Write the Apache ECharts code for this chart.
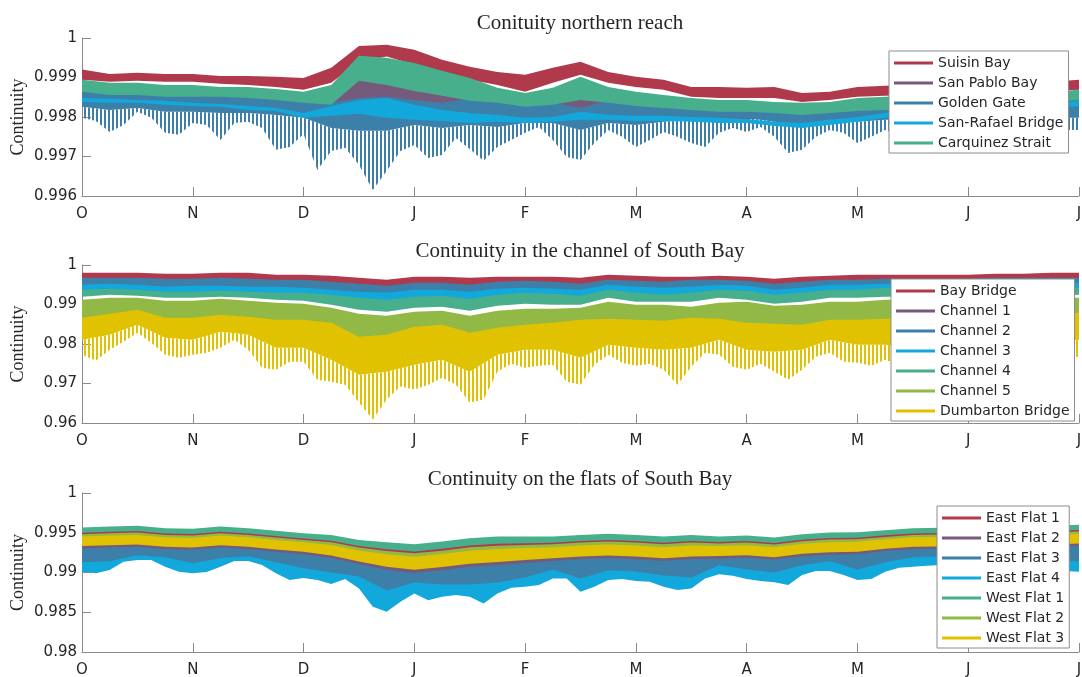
<!DOCTYPE html>
<html>
<head>
<meta charset="utf-8">
<script src="https://cdn.jsdelivr.net/npm/echarts@6/dist/echarts.min.js"></script>
<style>
  html, body { margin: 0; padding: 0; background: #ffffff; }
  #chart { width: 1082px; height: 677px; }
</style>
</head>
<body>
<div id="chart"></div>
<script>
// Month tick labels (October to July)
const monthLabels = ['O', 'N', 'D', 'J', 'F', 'M', 'A', 'M', 'J', 'J'];

// Sample positions, in months since 1 October
const coarseMonths = [0,0.25,0.5,0.75,1,1.25,1.5,1.75,2,2.25,2.5,2.75,3,3.25,3.5,3.75,4,4.25,4.5,4.75,5,5.25,5.5,5.75,6,6.25,6.5,6.75,7,7.25,7.5,7.75,8,8.25,8.5,8.75,9];
const fineMonths = [0,0.125,0.25,0.375,0.5,0.625,0.75,0.875,1,1.125,1.25,1.375,1.5,1.625,1.75,1.875,2,2.125,2.25,2.375,2.5,2.625,2.75,2.875,3,3.125,3.25,3.375,3.5,3.625,3.75,3.875,4,4.125,4.25,4.375,4.5,4.625,4.75,4.875,5,5.125,5.25,5.375,5.5,5.625,5.75,5.875,6,6.125,6.25,6.375,6.5,6.625,6.75,6.875,7,7.125,7.25,7.375,7.5,7.625,7.75,7.875,8,8.125,8.25,8.375,8.5,8.625,8.75,8.875,9];

// ---- Northern reach: tidal envelopes (upper / lower) ----
const suisinHi = [0.99920,0.99909,0.99912,0.99909,0.99909,0.99904,0.99904,0.99902,0.99899,0.99925,0.99980,0.99983,0.99970,0.99945,0.99927,0.99914,0.99907,0.99925,0.99940,0.99914,0.99902,0.99894,0.99876,0.99876,0.99874,0.99876,0.99861,0.99864,0.99876,0.99879,0.99881,0.99879,0.99881,0.99884,0.99887,0.99889,0.99894];
const suisinLo = [0.99894,0.99889,0.99892,0.99889,0.99889,0.99884,0.99881,0.99876,0.99869,0.99887,0.99940,0.99953,0.99932,0.99912,0.99894,0.99881,0.99864,0.99887,0.99907,0.99887,0.99876,0.99869,0.99851,0.99848,0.99848,0.99848,0.99838,0.99843,0.99851,0.99854,0.99856,0.99856,0.99859,0.99861,0.99864,0.99866,0.99869];
const sanPabloHi = [0.99874,0.99866,0.99866,0.99861,0.99861,0.99861,0.99859,0.99854,0.99846,0.99848,0.99894,0.99889,0.99879,0.99861,0.99848,0.99843,0.99833,0.99843,0.99854,0.99843,0.99836,0.99831,0.99826,0.99821,0.99821,0.99818,0.99813,0.99818,0.99823,0.99826,0.99828,0.99831,0.99833,0.99836,0.99841,0.99846,0.99851];
const sanPabloLo = [0.99848,0.99841,0.99841,0.99836,0.99836,0.99836,0.99833,0.99828,0.99821,0.99818,0.99843,0.99843,0.99836,0.99828,0.99823,0.99818,0.99808,0.99813,0.99818,0.99818,0.99810,0.99805,0.99800,0.99795,0.99795,0.99793,0.99788,0.99793,0.99798,0.99800,0.99803,0.99805,0.99808,0.99810,0.99815,0.99821,0.99826];
const goldenGateHi = [0.99869,0.99861,0.99861,0.99856,0.99856,0.99856,0.99854,0.99848,0.99841,0.99836,0.99848,0.99851,0.99843,0.99836,0.99846,0.99841,0.99831,0.99836,0.99823,0.99841,0.99833,0.99828,0.99823,0.99818,0.99818,0.99815,0.99810,0.99815,0.99821,0.99823,0.99826,0.99828,0.99831,0.99833,0.99838,0.99843,0.99848];
const goldenGateLo = [0.99826,0.99818,0.99823,0.99813,0.99813,0.99810,0.99810,0.99805,0.99798,0.99772,0.99765,0.99765,0.99780,0.99772,0.99780,0.99775,0.99785,0.99785,0.99767,0.99785,0.99780,0.99788,0.99793,0.99798,0.99798,0.99788,0.99780,0.99793,0.99788,0.99793,0.99793,0.99798,0.99798,0.99793,0.99795,0.99798,0.99798];
// spring-tide minima of Golden Gate (finer sampling)
const goldenGateTip = [0.99798,0.99790,0.99762,0.99780,0.99813,0.99798,0.99760,0.99755,0.99785,0.99780,
  0.99742,0.99785,0.99788,0.99772,0.99717,0.99724,0.99757,0.99666,0.99714,0.99722,
  0.99679,0.99615,0.99663,0.99714,0.99729,0.99696,0.99704,0.99747,0.99719,0.99689,
  0.99724,0.99742,0.99760,0.99775,0.99742,0.99699,0.99691,0.99734,0.99767,0.99750,
  0.99724,0.99742,0.99762,0.99750,0.99734,0.99724,0.99760,0.99772,0.99762,0.99775,
  0.99750,0.99709,0.99717,0.99750,0.99767,0.99760,0.99734,0.99750,0.99767,0.99755,
  0.99742,0.99762,0.99772,0.99755,0.99737,0.99747,0.99767,0.99772,0.99755,0.99742,
  0.99762,0.99767,0.99767];
const sanRafaelHi = [0.99848,0.99846,0.99843,0.99841,0.99836,0.99833,0.99828,0.99823,0.99810,0.99828,0.99843,0.99848,0.99831,0.99818,0.99810,0.99805,0.99798,0.99800,0.99813,0.99805,0.99803,0.99803,0.99800,0.99798,0.99795,0.99788,0.99785,0.99793,0.99800,0.99810,0.99813,0.99815,0.99818,0.99823,0.99828,0.99833,0.99841];
const sanRafaelLo = [0.99838,0.99836,0.99836,0.99831,0.99828,0.99826,0.99818,0.99815,0.99798,0.99803,0.99808,0.99798,0.99793,0.99790,0.99785,0.99788,0.99785,0.99788,0.99793,0.99793,0.99790,0.99790,0.99788,0.99785,0.99785,0.99777,0.99772,0.99780,0.99788,0.99798,0.99800,0.99803,0.99805,0.99810,0.99815,0.99821,0.99828];
const carquinezHi = [0.99894,0.99887,0.99887,0.99881,0.99881,0.99876,0.99876,0.99871,0.99864,0.99881,0.99955,0.99950,0.99937,0.99917,0.99899,0.99874,0.99861,0.99874,0.99902,0.99876,0.99864,0.99856,0.99848,0.99843,0.99843,0.99838,0.99836,0.99838,0.99848,0.99851,0.99854,0.99854,0.99856,0.99859,0.99861,0.99864,0.99869];
const carquinezLo = [0.99864,0.99856,0.99856,0.99851,0.99851,0.99851,0.99848,0.99843,0.99836,0.99831,0.99892,0.99881,0.99866,0.99854,0.99841,0.99836,0.99826,0.99831,0.99843,0.99836,0.99828,0.99823,0.99818,0.99813,0.99813,0.99810,0.99805,0.99810,0.99815,0.99818,0.99821,0.99823,0.99826,0.99828,0.99833,0.99838,0.99843];

// ---- Channel of South Bay ----
const bayBridgeHi = [0.99805,0.99805,0.99805,0.99780,0.99780,0.99805,0.99805,0.99755,0.99755,0.99729,0.99679,0.99628,0.99704,0.99704,0.99679,0.99704,0.99704,0.99704,0.99679,0.99755,0.99729,0.99704,0.99704,0.99729,0.99704,0.99653,0.99704,0.99729,0.99755,0.99755,0.99755,0.99755,0.99755,0.99780,0.99780,0.99805,0.99805];
const bayBridgeLo = [0.99603,0.99603,0.99603,0.99577,0.99577,0.99603,0.99577,0.99552,0.99552,0.99502,0.99451,0.99400,0.99476,0.99476,0.99426,0.99502,0.99527,0.99502,0.99451,0.99552,0.99527,0.99502,0.99552,0.99552,0.99527,0.99451,0.99502,0.99552,0.99552,0.99577,0.99577,0.99577,0.99577,0.99603,0.99603,0.99603,0.99603];
const channel1Hi = [0.99628,0.99628,0.99628,0.99603,0.99603,0.99628,0.99603,0.99577,0.99577,0.99527,0.99476,0.99426,0.99502,0.99502,0.99451,0.99527,0.99552,0.99527,0.99476,0.99577,0.99552,0.99527,0.99577,0.99577,0.99552,0.99476,0.99527,0.99577,0.99577,0.99603,0.99603,0.99603,0.99603,0.99628,0.99628,0.99628,0.99628];
const channel1Lo = [0.99502,0.99527,0.99502,0.99451,0.99476,0.99476,0.99451,0.99451,0.99426,0.99375,0.99325,0.99299,0.99375,0.99375,0.99325,0.99400,0.99426,0.99400,0.99375,0.99502,0.99451,0.99426,0.99451,0.99502,0.99476,0.99375,0.99426,0.99502,0.99502,0.99527,0.99527,0.99527,0.99527,0.99527,0.99527,0.99552,0.99552];
const channel2Hi = [0.99679,0.99679,0.99679,0.99653,0.99653,0.99679,0.99653,0.99628,0.99628,0.99577,0.99527,0.99476,0.99552,0.99552,0.99502,0.99577,0.99603,0.99577,0.99527,0.99628,0.99603,0.99577,0.99628,0.99628,0.99603,0.99527,0.99577,0.99628,0.99628,0.99653,0.99653,0.99653,0.99653,0.99679,0.99679,0.99679,0.99679];
const channel2Lo = [0.99426,0.99451,0.99426,0.99375,0.99400,0.99400,0.99375,0.99375,0.99350,0.99299,0.99249,0.99223,0.99299,0.99299,0.99249,0.99325,0.99350,0.99325,0.99299,0.99426,0.99375,0.99350,0.99375,0.99426,0.99400,0.99299,0.99350,0.99426,0.99426,0.99451,0.99451,0.99451,0.99451,0.99451,0.99451,0.99476,0.99476];
const channel3Hi = [0.99502,0.99527,0.99502,0.99451,0.99476,0.99476,0.99451,0.99451,0.99426,0.99375,0.99325,0.99299,0.99375,0.99375,0.99325,0.99400,0.99426,0.99400,0.99375,0.99502,0.99451,0.99426,0.99451,0.99502,0.99476,0.99375,0.99426,0.99502,0.99502,0.99527,0.99527,0.99527,0.99527,0.99527,0.99527,0.99552,0.99552];
const channel3Lo = [0.99299,0.99325,0.99299,0.99249,0.99249,0.99274,0.99249,0.99223,0.99223,0.99173,0.99097,0.99046,0.99122,0.99147,0.99071,0.99173,0.99223,0.99198,0.99147,0.99299,0.99223,0.99173,0.99223,0.99299,0.99274,0.99173,0.99223,0.99299,0.99299,0.99350,0.99350,0.99350,0.99350,0.99350,0.99350,0.99350,0.99350];
const channel4Hi = [0.99375,0.99400,0.99375,0.99325,0.99325,0.99350,0.99325,0.99299,0.99299,0.99249,0.99173,0.99122,0.99198,0.99223,0.99147,0.99249,0.99299,0.99274,0.99223,0.99375,0.99299,0.99249,0.99299,0.99375,0.99350,0.99249,0.99299,0.99375,0.99375,0.99426,0.99426,0.99426,0.99426,0.99426,0.99426,0.99426,0.99426];
const channel4Lo = [0.99198,0.99249,0.99223,0.99173,0.99173,0.99198,0.99173,0.99122,0.99097,0.98996,0.98869,0.98818,0.98920,0.98945,0.98844,0.98970,0.99021,0.98996,0.98996,0.99173,0.99071,0.99071,0.99071,0.99173,0.99122,0.99021,0.99071,0.99173,0.99173,0.99198,0.99198,0.99223,0.99223,0.99223,0.99223,0.99223,0.99249];
const channel5Hi = [0.99122,0.99173,0.99173,0.99097,0.99097,0.99147,0.99097,0.99046,0.99021,0.98920,0.98768,0.98717,0.98818,0.98844,0.98717,0.98844,0.98894,0.98894,0.98920,0.99071,0.98996,0.98996,0.98945,0.99046,0.99071,0.98970,0.98996,0.99071,0.99071,0.99122,0.99122,0.99122,0.99122,0.99147,0.99147,0.99173,0.99173];
const channel5Lo = [0.98464,0.98565,0.98667,0.98464,0.98464,0.98540,0.98489,0.98413,0.98413,0.98337,0.97983,0.98034,0.98236,0.98287,0.98084,0.98211,0.98287,0.98337,0.98413,0.98439,0.98413,0.98388,0.98464,0.98439,0.98337,0.98312,0.98287,0.98413,0.98413,0.98439,0.98464,0.98464,0.98489,0.98515,0.98515,0.98540,0.98591];
const dumbartonHi = [0.98667,0.98768,0.98869,0.98667,0.98667,0.98743,0.98692,0.98616,0.98616,0.98540,0.98186,0.98236,0.98439,0.98489,0.98287,0.98413,0.98489,0.98540,0.98616,0.98641,0.98616,0.98591,0.98667,0.98641,0.98540,0.98515,0.98489,0.98616,0.98616,0.98641,0.98667,0.98667,0.98692,0.98717,0.98717,0.98743,0.98793];
const dumbartonLo = [0.98110,0.98236,0.98489,0.98160,0.98110,0.98312,0.98236,0.97907,0.97907,0.97604,0.97224,0.97300,0.97477,0.97604,0.97300,0.97730,0.97857,0.97857,0.97654,0.97983,0.97907,0.97857,0.97907,0.98110,0.97857,0.97806,0.97857,0.98110,0.97983,0.97983,0.97907,0.98008,0.97958,0.98008,0.97983,0.98059,0.98110];
// spring-tide minima of Dumbarton Bridge (finer sampling)
const dumbartonTip = [0.97730,0.97578,0.97857,0.98059,0.98287,0.98034,0.97730,0.97654,0.97730,0.97781,
  0.97907,0.98110,0.97857,0.97401,0.97351,0.97553,0.97553,0.97098,0.97047,0.96971,
  0.96516,0.96086,0.96592,0.96921,0.96845,0.96971,0.97148,0.96971,0.96516,0.96592,
  0.97300,0.97503,0.97401,0.97452,0.97477,0.97047,0.96971,0.97477,0.97730,0.97528,
  0.97452,0.97503,0.97351,0.96971,0.97427,0.97781,0.97730,0.97427,0.97351,0.97503,
  0.97300,0.97098,0.97351,0.97680,0.97781,0.97553,0.97528,0.97452,0.97604,0.97477,
  0.97351,0.97553,0.97654,0.97553,0.97401,0.97477,0.97604,0.97553,0.97401,0.97503,
  0.97604,0.97654,0.97680];

// ---- Flats of South Bay ----
const eastFlat1Hi = [0.99512,0.99524,0.99533,0.99504,0.99495,0.99524,0.99504,0.99470,0.99441,0.99414,0.99347,0.99310,0.99281,0.99314,0.99357,0.99377,0.99384,0.99389,0.99410,0.99423,0.99410,0.99389,0.99410,0.99395,0.99407,0.99382,0.99425,0.99445,0.99450,0.99479,0.99504,0.99508,0.99514,0.99520,0.99527,0.99533,0.99546];
const eastFlat1Lo = [0.99457,0.99469,0.99478,0.99449,0.99440,0.99469,0.99449,0.99415,0.99386,0.99353,0.99285,0.99238,0.99208,0.99241,0.99284,0.99304,0.99316,0.99327,0.99348,0.99361,0.99348,0.99327,0.99348,0.99338,0.99350,0.99325,0.99368,0.99388,0.99393,0.99424,0.99449,0.99453,0.99459,0.99465,0.99472,0.99478,0.99491];
const eastFlat2Hi = [0.99344,0.99356,0.99365,0.99336,0.99327,0.99356,0.99336,0.99302,0.99273,0.99228,0.99152,0.99089,0.99052,0.99085,0.99128,0.99148,0.99172,0.99194,0.99215,0.99228,0.99215,0.99194,0.99215,0.99218,0.99230,0.99205,0.99248,0.99268,0.99273,0.99311,0.99336,0.99340,0.99346,0.99352,0.99359,0.99365,0.99378];
const eastFlat2Lo = [0.99278,0.99290,0.99299,0.99270,0.99261,0.99290,0.99270,0.99236,0.99207,0.99155,0.99077,0.99002,0.98962,0.98995,0.99038,0.99058,0.99088,0.99119,0.99140,0.99153,0.99140,0.99119,0.99140,0.99149,0.99161,0.99136,0.99179,0.99199,0.99204,0.99245,0.99270,0.99274,0.99280,0.99286,0.99293,0.99299,0.99312];
const eastFlat3Hi = [0.99302,0.99314,0.99323,0.99294,0.99285,0.99314,0.99294,0.99260,0.99231,0.99181,0.99104,0.99034,0.98995,0.99028,0.99071,0.99091,0.99119,0.99146,0.99167,0.99180,0.99167,0.99146,0.99167,0.99174,0.99186,0.99161,0.99204,0.99224,0.99229,0.99269,0.99294,0.99298,0.99304,0.99310,0.99317,0.99323,0.99336];
const eastFlat3Lo = [0.99108,0.99120,0.99196,0.99171,0.99095,0.99158,0.99183,0.99108,0.99032,0.98981,0.98931,0.98754,0.98855,0.98830,0.98830,0.98855,0.98918,0.99019,0.98905,0.99007,0.98994,0.98943,0.98918,0.99070,0.99019,0.98981,0.99070,0.99120,0.99019,0.99108,0.99171,0.99183,0.99145,0.99133,0.99171,0.99133,0.99120];
const eastFlat4Hi = [0.99128,0.99140,0.99216,0.99191,0.99115,0.99178,0.99203,0.99128,0.99052,0.99001,0.98951,0.98774,0.98875,0.98850,0.98850,0.98875,0.98938,0.99039,0.98925,0.99027,0.99014,0.98963,0.98938,0.99090,0.99039,0.99001,0.99090,0.99140,0.99039,0.99128,0.99191,0.99203,0.99165,0.99153,0.99191,0.99153,0.99140];
const eastFlat4Lo = [0.99010,0.98990,0.99031,0.99136,0.99158,0.99158,0.99073,0.99010,0.98990,0.99006,0.99073,0.99145,0.99145,0.99094,0.98990,0.98905,0.98930,0.98905,0.98855,0.98918,
  0.98800,0.98568,0.98505,0.98631,0.98737,0.98652,0.98694,0.98716,0.98694,0.98611,
  0.98737,0.98808,0.98820,0.98842,0.98926,0.98926,0.98757,0.98820,0.98905,0.98918,
  0.98892,0.98884,0.98820,0.98779,0.98800,0.98926,0.98977,0.98959,0.98918,0.98892,
  0.98876,0.98842,0.98968,0.99019,0.99019,0.98968,0.98905,0.98918,0.99010,0.99060,
  0.99073,0.99086,0.99094,0.99082,0.99057,0.99031,0.99044,0.99069,0.99082,0.99057,
  0.99031,0.99019,0.99010];
const westFlat1Hi = [0.99566,0.99578,0.99587,0.99558,0.99549,0.99578,0.99558,0.99524,0.99495,0.99473,0.99410,0.99381,0.99356,0.99389,0.99432,0.99452,0.99452,0.99452,0.99473,0.99486,0.99473,0.99452,0.99473,0.99452,0.99464,0.99439,0.99482,0.99502,0.99507,0.99533,0.99558,0.99562,0.99568,0.99574,0.99581,0.99587,0.99600];
const westFlat1Lo = [0.99500,0.99512,0.99521,0.99492,0.99483,0.99512,0.99492,0.99458,0.99429,0.99400,0.99333,0.99294,0.99265,0.99298,0.99341,0.99361,0.99369,0.99375,0.99396,0.99409,0.99396,0.99375,0.99396,0.99383,0.99395,0.99370,0.99413,0.99433,0.99438,0.99467,0.99492,0.99496,0.99502,0.99508,0.99515,0.99521,0.99534];
const westFlat2Hi = [0.99481,0.99493,0.99502,0.99473,0.99464,0.99493,0.99473,0.99439,0.99410,0.99380,0.99313,0.99270,0.99241,0.99274,0.99317,0.99337,0.99346,0.99355,0.99376,0.99389,0.99376,0.99355,0.99376,0.99364,0.99376,0.99351,0.99394,0.99414,0.99419,0.99448,0.99473,0.99477,0.99483,0.99489,0.99496,0.99502,0.99515];
const westFlat2Lo = [0.99422,0.99434,0.99443,0.99414,0.99405,0.99434,0.99414,0.99380,0.99351,0.99314,0.99243,0.99192,0.99159,0.99192,0.99235,0.99255,0.99270,0.99285,0.99306,0.99319,0.99306,0.99285,0.99306,0.99300,0.99312,0.99287,0.99330,0.99350,0.99355,0.99389,0.99414,0.99418,0.99424,0.99430,0.99437,0.99443,0.99456];
const westFlat3Hi = [0.99452,0.99464,0.99473,0.99444,0.99435,0.99464,0.99444,0.99410,0.99381,0.99347,0.99277,0.99231,0.99199,0.99232,0.99275,0.99295,0.99308,0.99319,0.99340,0.99353,0.99340,0.99319,0.99340,0.99332,0.99344,0.99319,0.99362,0.99382,0.99387,0.99419,0.99444,0.99448,0.99454,0.99460,0.99467,0.99473,0.99486];
const westFlat3Lo = [0.99332,0.99344,0.99353,0.99324,0.99315,0.99344,0.99324,0.99290,0.99261,0.99214,0.99138,0.99073,0.99035,0.99068,0.99111,0.99131,0.99156,0.99180,0.99201,0.99214,0.99201,0.99180,0.99201,0.99206,0.99218,0.99193,0.99236,0.99256,0.99261,0.99299,0.99324,0.99328,0.99334,0.99340,0.99347,0.99353,0.99366];

const COLORS = {
  red: '#b03a4c', purple: '#765a7c', blue: '#3c80aa', cyan: '#12a8dc',
  teal: '#47af8c', lime: '#92b846', gold: '#e0c200'
};

const panels = [
  { title: 'Conituity northern reach', min: 0.996, max: 1, interval: 0.001, legendLeft: 889, legendTop: 51,
    series: [
      ['Suisin Bay', COLORS.red, suisinHi, suisinLo],
      ['San Pablo Bay', COLORS.purple, sanPabloHi, sanPabloLo],
      ['Golden Gate', COLORS.blue, goldenGateHi, goldenGateLo, goldenGateTip],
      ['San-Rafael Bridge', COLORS.cyan, sanRafaelHi, sanRafaelLo],
      ['Carquinez Strait', COLORS.teal, carquinezHi, carquinezLo]
    ] },
  { title: 'Continuity in the channel of South Bay', min: 0.96, max: 1, interval: 0.01, legendLeft: 891, legendTop: 279,
    series: [
      ['Bay Bridge', COLORS.red, bayBridgeHi, bayBridgeLo],
      ['Channel 1', COLORS.purple, channel1Hi, channel1Lo],
      ['Channel 2', COLORS.blue, channel2Hi, channel2Lo],
      ['Channel 3', COLORS.cyan, channel3Hi, channel3Lo],
      ['Channel 4', COLORS.teal, channel4Hi, channel4Lo],
      ['Channel 5', COLORS.lime, channel5Hi, channel5Lo],
      ['Dumbarton Bridge', COLORS.gold, dumbartonHi, dumbartonLo, dumbartonTip]
    ] },
  { title: 'Continuity on the flats of South Bay', min: 0.98, max: 1, interval: 0.005, legendLeft: 937, legendTop: 506,
    series: [
      ['East Flat 1', COLORS.red, eastFlat1Hi, eastFlat1Lo],
      ['East Flat 2', COLORS.purple, eastFlat2Hi, eastFlat2Lo],
      ['East Flat 3', COLORS.blue, eastFlat3Hi, eastFlat3Lo],
      ['East Flat 4', COLORS.cyan, eastFlat4Hi, eastFlat4Lo],
      ['West Flat 1', COLORS.teal, westFlat1Hi, westFlat1Lo],
      ['West Flat 2', COLORS.lime, westFlat2Hi, westFlat2Lo],
      ['West Flat 3', COLORS.gold, westFlat3Hi, westFlat3Lo]
    ] }
];

const gridBoxes = [
  { left: 82, top: 38, width: 997, height: 158 },
  { left: 82, top: 265, width: 997, height: 158 },
  { left: 82, top: 493, width: 997, height: 159 }
];
const titleY = [23, 251, 479];

const AXIS_COLOR = '#8a8a8a';
const TEXT_COLOR = '#262626';

function monthsFor(arr) {
  return arr.length === fineMonths.length ? fineMonths : coarseMonths;
}

// vertical comb texture for the spring-tide spikes
function stripePattern(color) {
  const c = document.createElement('canvas');
  c.width = 4; c.height = 4;
  const g = c.getContext('2d');
  g.fillStyle = color;
  g.fillRect(0, 0, 2, 4);
  return { image: c, repeat: 'repeat' };
}

function bandPolygon(api, upper, lower, fill) {
  const xu = monthsFor(upper), xl = monthsFor(lower);
  const pts = [];
  for (let i = 0; i < upper.length; i++) pts.push(api.coord([xu[i], upper[i]]));
  for (let i = lower.length - 1; i >= 0; i--) pts.push(api.coord([xl[i], lower[i]]));
  return { type: 'polygon', shape: { points: pts }, style: { fill: fill, stroke: null } };
}

function bandSeries(axisIndex, name, color, hi, lo, tip) {
  return {
    type: 'custom',
    name: name,
    coordinateSystem: 'cartesian2d',
    xAxisIndex: axisIndex,
    yAxisIndex: axisIndex,
    itemStyle: { color: color },
    silent: true,
    animation: false,
    data: [[4.5, lo[18]]],
    renderItem: function (params, api) {
      const children = [bandPolygon(api, hi, lo, color)];
      if (tip) children.push(bandPolygon(api, lo, tip, stripePattern(color)));
      return { type: 'group', children: children };
    }
  };
}

const option = {
  backgroundColor: '#ffffff',
  animation: false,
  grid: gridBoxes.map(g => Object.assign({ containLabel: false, outerBoundsMode: 'none' }, g)),
  xAxis: gridBoxes.map((g, i) => ({
    type: 'value', gridIndex: i, min: 0, max: 9, interval: 1,
    axisLine: { show: true, lineStyle: { color: AXIS_COLOR, width: 1 } },
    axisTick: { show: true, inside: true, length: 9, lineStyle: { color: AXIS_COLOR } },
    axisLabel: { color: TEXT_COLOR, fontFamily: 'DejaVu Sans', fontSize: 15, margin: 11,
      formatter: v => monthLabels[Math.round(v)] },
    splitLine: { show: false }
  })),
  yAxis: panels.map((p, i) => ({
    type: 'value', gridIndex: i, min: p.min, max: p.max, interval: p.interval,
    axisLine: { show: true, lineStyle: { color: AXIS_COLOR, width: 1 } },
    axisTick: { show: true, inside: true, length: 9, lineStyle: { color: AXIS_COLOR } },
    axisLabel: { color: TEXT_COLOR, fontFamily: 'DejaVu Sans', fontSize: 15, margin: 5 },
    splitLine: { show: false },
    name: 'Continuity', nameLocation: 'middle', nameGap: 55, nameRotate: 90, nameMoveOverlap: false,
    nameTextStyle: { fontFamily: 'Liberation Serif', fontSize: 18, color: TEXT_COLOR }
  })),
  legend: panels.map(p => ({
    data: p.series.map(s => s[0]),
    orient: 'vertical', left: p.legendLeft, top: p.legendTop,
    icon: 'rect', itemWidth: 39, itemHeight: 3, itemGap: 4,
    backgroundColor: '#ffffff', borderColor: '#8c8c8c', borderWidth: 1, borderRadius: 0,
    padding: [4, 5, 2, 5], selectedMode: false,
    textStyle: { fontFamily: 'DejaVu Sans', fontSize: 14, color: TEXT_COLOR, lineHeight: 16 }
  })),
  graphic: panels.map((p, i) => ({
    type: 'text', x: 580, y: titleY[i], silent: true,
    style: { text: p.title, font: '21px "Liberation Serif"', fill: TEXT_COLOR,
      align: 'center', verticalAlign: 'middle', textAlign: 'center', textVerticalAlign: 'middle' }
  })),
  series: []
};

panels.forEach((p, i) => {
  p.series.forEach(s => option.series.push(bandSeries(i, s[0], s[1], s[2], s[3], s[4])));
});

const chart = echarts.init(document.getElementById('chart'), null, { renderer: 'canvas' });
chart.setOption(option);
</script>
</body>
</html>
